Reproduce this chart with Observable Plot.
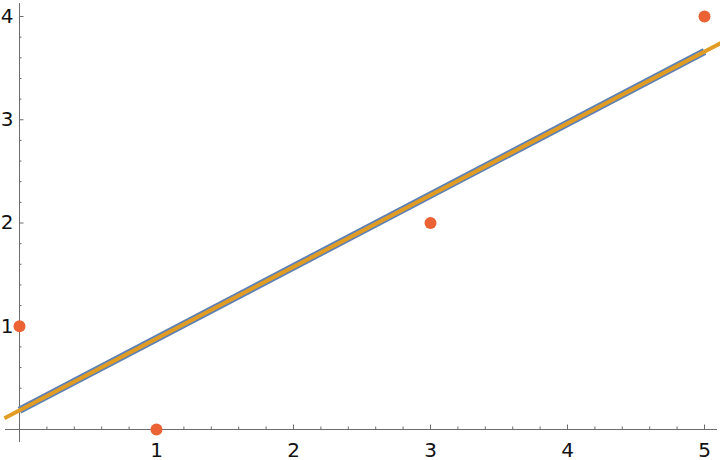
<!DOCTYPE html>
<html>
<head>
<meta charset="utf-8">
<script src="https://cdn.jsdelivr.net/npm/d3@7"></script>
<script src="https://cdn.jsdelivr.net/npm/@observablehq/plot@0.6"></script>
<style>
  html, body { margin: 0; padding: 0; background: #fff; }
  #chart { width: 720px; height: 460px; }
</style>
</head>
<body>
<div id="chart"></div>
<script>
// Data points
const pointX = [0, 1, 3, 5];
const pointY = [1, 0, 2, 4];
// Fitted line over data range (blue)
const fitX = [0, 5];
const fitY = [0.186, 3.661];
// Extended fitted line (orange)
const extX = [-0.11, 5.12];
const extY = [0.108, 3.744];
// Tick labels
const xMajor = [1, 2, 3, 4, 5];
const yMajor = [1, 2, 3, 4];
const xMinor = d3.range(0.2, 5.05, 0.2).filter(v => Math.abs(v - Math.round(v)) > 1e-6);
const yMinor = d3.range(0.2, 4.05, 0.2).filter(v => Math.abs(v - Math.round(v)) > 1e-6);

const points = pointX.map((x, i) => ({x, y: pointY[i]}));
const fit = fitX.map((x, i) => ({x, y: fitY[i]}));
const ext = extX.map((x, i) => ({x, y: extY[i]}));

const axisColor = "#6b6b6b";

const chart = Plot.plot({
  width: 720,
  height: 460,
  marginLeft: 19,
  marginRight: 16,
  marginTop: 16,
  marginBottom: 31,
  x: {domain: [0, 5], axis: null},
  y: {domain: [0, 4], axis: null},
  style: {fontFamily: "DejaVu Sans", fontSize: "20px", background: "#fff"},
  marks: [
    // axis lines
    Plot.ruleY([0], {x1: -0.102, x2: 5.095, stroke: axisColor, strokeWidth: 1}),
    Plot.ruleX([0], {y1: -0.126, y2: 4.126, stroke: axisColor, strokeWidth: 1}),
    // x ticks (pointing up)
    Plot.ruleX(xMajor, {x: d => d, insetTop: 408.5, stroke: axisColor, strokeWidth: 1}),
    Plot.ruleX(xMinor, {x: d => d, insetTop: 410.5, stroke: axisColor, strokeWidth: 1}),
    // y ticks (pointing right)
    Plot.ruleY(yMajor, {y: d => d, insetRight: 680.5, stroke: axisColor, strokeWidth: 1}),
    Plot.ruleY(yMinor, {y: d => d, insetRight: 682.5, stroke: axisColor, strokeWidth: 1}),
    // tick labels
    Plot.text(xMajor, {x: d => d, y: 0, text: d => String(d), lineAnchor: "bottom", dy: 27, textAnchor: "middle", fill: "#111"}),
    Plot.text(yMajor, {x: 0, y: d => d, text: d => String(d), lineAnchor: "middle", dx: -6, textAnchor: "end", fill: "#111"}),
    // fitted lines
    Plot.line(fit, {x: "x", y: "y", stroke: "#5E81B5", strokeWidth: 7.5, strokeLinecap: "butt"}),
    Plot.line(ext, {x: "x", y: "y", stroke: "#E19C24", strokeWidth: 4, strokeLinecap: "butt"}),
    // data points
    Plot.dot(points, {x: "x", y: "y", r: 6, fill: "#EB6235", stroke: "none"})
  ]
});
document.getElementById("chart").appendChild(chart);
</script>
</body>
</html>
